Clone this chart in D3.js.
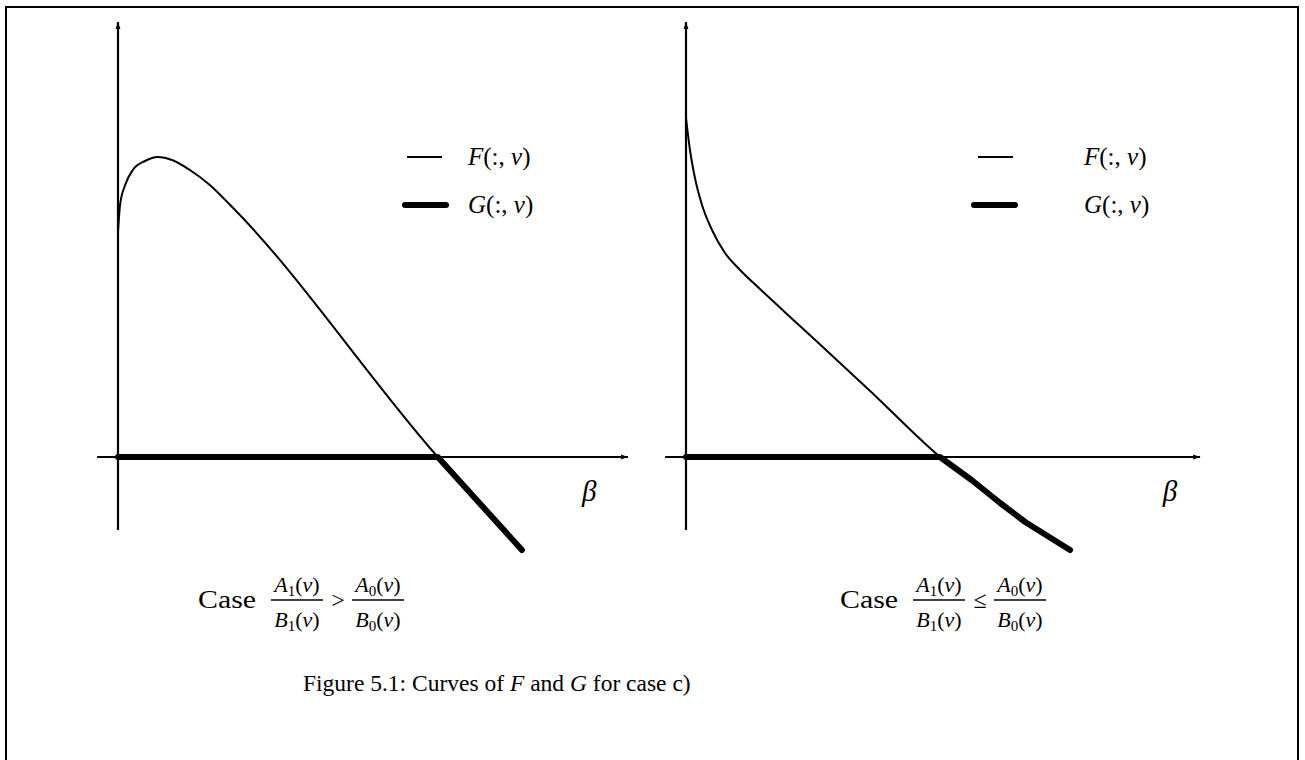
<!DOCTYPE html>
<html><head><meta charset="utf-8">
<script src="https://cdn.jsdelivr.net/npm/d3@7"></script>
<style>
html,body{margin:0;padding:0;background:#fff;}
text{font-family:"Liberation Serif","DejaVu Serif",serif;fill:#000;}
</style></head>
<body><svg id="c" width="1305" height="760"></svg>
<script>
// ---- data (beta, value) ----
const leftF_beta  = [0, 0.04, 0.14, 0.29, 0.53, 0.78, 1.06, 1.41, 1.80, 2.20, 6.27, 7.92];
const leftF_val   = [4.5, 5.04, 5.44, 5.74, 5.92, 6.00, 5.94, 5.74, 5.44, 5.04, 0, -1.86];
const leftG_beta  = [0, 6.27, 7.92];
const leftG_val   = [0, 0, -1.86];
const rightF_beta = [0, 0.078, 0.176, 0.314, 0.51, 0.765, 1.06, 1.45, 2.235, 3.61, 4.98, 6.16, 6.65, 7.53];
const rightF_val  = [6.78, 6.14, 5.58, 5.04, 4.54, 4.08, 3.74, 3.36, 2.62, 1.32, 0, -0.92, -1.30, -1.86];
const rightG_beta = [0, 4.98, 5.60, 6.16, 6.65, 7.53];
const rightG_val  = [0, 0, -0.46, -0.92, -1.30, -1.86];
const axisLabel = "β";
const legendLabels = ["F", "G"];
const caseRelations = [">", "≤"];
const figureCaption = ["Figure 5.1: Curves of ", "F", " and ", "G", " for case c)"];

const svg = d3.select("#c");
svg.append("defs").append("marker").attr("id","arr").attr("viewBox","0 0 10 10")
  .attr("refX",10).attr("refY",5).attr("markerWidth",9).attr("markerHeight",7)
  .attr("markerUnits","userSpaceOnUse").attr("orient","auto")
  .append("path").attr("d","M0,1.5 L10,5 L0,8.5 Z").attr("fill","#000");

// border (no bottom edge visible)
svg.append("path").attr("d","M6,760 L6,7 L1298,7 L1298,760")
  .attr("fill","none").attr("stroke","#000").attr("stroke-width",2);

function panel(ox, Fb, Fv, Gb, Gv, legX, legTextX, relation, capX, axisEnd, betaPos) {
  const x = d3.scaleLinear().domain([0, 10]).range([ox, ox + 510]);
  const y = d3.scaleLinear().domain([0, 1]).range([457, 407]);
  const g = svg.append("g");
  // axes
  g.append("line").attr("x1", x(-0.41)).attr("x2", x(axisEnd)).attr("y1", y(0)).attr("y2", y(0))
    .attr("stroke","#000").attr("stroke-width",2.2).attr("marker-end","url(#arr)");
  g.append("line").attr("x1", x(0)).attr("x2", x(0)).attr("y1", y(-1.46)).attr("y2", y(8.7))
    .attr("stroke","#000").attr("stroke-width",2.2).attr("marker-end","url(#arr)");
  const line = d3.line().x(d => x(d[0])).y(d => y(d[1])).curve(d3.curveMonotoneX);
  const line2 = d3.line().x(d => x(d[0])).y(d => y(d[1]));
  g.append("path").attr("d", line(d3.zip(Fb, Fv))).attr("fill","none")
    .attr("stroke","#000").attr("stroke-width",2);
  g.append("path").attr("d", line2(d3.zip(Gb, Gv))).attr("fill","none")
    .attr("stroke","#000").attr("stroke-width",6).attr("stroke-linecap","round").attr("stroke-linejoin","round");
  // beta label
  g.append("text").attr("x", x(betaPos)).attr("y", y(-0.88)).attr("font-size",29)
    .attr("font-style","italic").text(axisLabel);
  // legend
  const rows = [[157, 2, 35], [205, 6, 41]];
  rows.forEach((r, i) => {
    g.append("line").attr("x1", legX[i]).attr("x2", legX[i] + r[2]).attr("y1", r[0]).attr("y2", r[0])
      .attr("stroke","#000").attr("stroke-width", r[1]).attr("stroke-linecap", i ? "round" : "butt");
    const t = g.append("text").attr("x", legTextX).attr("y", r[0] + 8).attr("font-size",25);
    t.append("tspan").attr("font-style","italic").text(legendLabels[i]);
    t.append("tspan").text("(:, ");
    t.append("tspan").attr("font-style","italic").text("v");
    t.append("tspan").text(")");
  });
  // case caption
  const cg = g.append("g").attr("transform", `translate(${capX},0)`);
  cg.append("text").attr("x", 2).attr("y", 608).attr("font-size",26)
    .attr("textLength",58).attr("lengthAdjust","spacingAndGlyphs").text("Case");
  function frac(cx, a, b, sub) {
    [[a, 592], [b, 627]].forEach(([L, by]) => {
      const t = cg.append("text").attr("x", cx).attr("y", by).attr("font-size",22).attr("text-anchor","middle");
      t.append("tspan").attr("font-style","italic").text(L);
      t.append("tspan").attr("font-size",15).attr("dy",4).text(sub);
      t.append("tspan").attr("dy",-4).text("(");
      t.append("tspan").attr("font-style","italic").text("v");
      t.append("tspan").text(")");
    });
    cg.append("line").attr("x1", cx - 26).attr("x2", cx + 26).attr("y1", 600).attr("y2", 600)
      .attr("stroke","#000").attr("stroke-width",1.6);
  }
  frac(101, "A", "B", "1");
  cg.append("text").attr("x", 142).attr("y", 608).attr("font-size",24).attr("text-anchor","middle").text(relation);
  frac(182, "A", "B", "0");
}

panel(118, leftF_beta, leftF_val, leftG_beta, leftG_val, [407, 405], 468, caseRelations[0], 196, 10.0, 9.1);
panel(686, rightF_beta, rightF_val, rightG_beta, rightG_val, [978, 974], 1084, caseRelations[1], 838, 10.08, 9.35);

const fc = svg.append("text").attr("x", 303).attr("y", 691).attr("font-size",23.5);
figureCaption.forEach((s, i) => fc.append("tspan").attr("font-style", (i === 1 || i === 3) ? "italic" : "normal").text(s));
</script></body></html>
